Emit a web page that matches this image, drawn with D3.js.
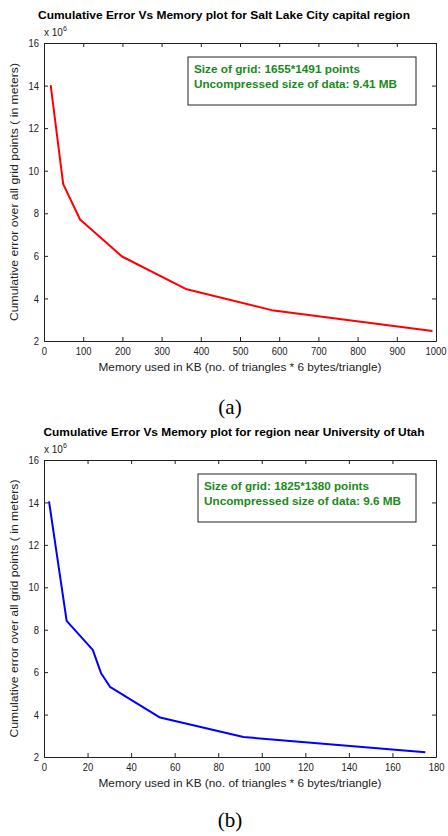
<!DOCTYPE html>
<html>
<head>
<meta charset="utf-8">
<script src="https://cdn.jsdelivr.net/npm/d3@7"></script>
<style>
  body { margin: 0; background: #fff; }
  svg { display: block; font-family: "Liberation Sans", Arial, sans-serif; }
</style>
</head>
<body>
<svg id="fig" width="448" height="836"></svg>
<script>
// panel (a): Salt Lake City capital region
var memA = [17, 49, 92, 199, 364, 581, 991];
var errA = [14.02, 9.37, 7.71, 5.97, 4.43, 3.45, 2.47];
var ticksXA = [0, 100, 200, 300, 400, 500, 600, 700, 800, 900, 1000];

// panel (b): region near University of Utah
var memB = [2.3, 10.4, 22.4, 26.2, 30.3, 53.3, 91.6, 175.1];
var errB = [14.05, 8.42, 7.05, 5.95, 5.31, 3.86, 2.94, 2.22];
var ticksXB = [0, 20, 40, 60, 80, 100, 120, 140, 160, 180];

var ticksY = [2, 4, 6, 8, 10, 12, 14, 16];
var titles = ["Cumulative Error Vs Memory plot for Salt Lake City capital region",
              "Cumulative Error Vs Memory plot for region near University of Utah"];
var notesA = ["Size of grid: 1655*1491 points", "Uncompressed size of data: 9.41 MB"];
var notesB = ["Size of grid: 1825*1380 points", "Uncompressed size of data: 9.6 MB"];
var captions = ["(a)", "(b)"];
var xLabel = "Memory used in KB (no. of triangles * 6 bytes/triangle)";
var yLabel = "Cumulative error over all grid points ( in meters)";

var svg = d3.select("#fig");

// squeeze text horizontally (the original figure is a bit narrow)
function squeeze(sel, k) {
  sel.each(function() {
    var n = this.getComputedTextLength();
    d3.select(this).attr("textLength", n * k).attr("lengthAdjust", "spacingAndGlyphs");
  });
}

function drawPanel(p) {
  var x = d3.scaleLinear().domain([0, p.xMax]).range([44, 436]);
  var y = d3.scaleLinear().domain([2, 16]).range([p.bottom, p.top]);
  var g = svg.append("g");

  // title
  g.append("text")
    .attr("x", p.titleX).attr("y", p.top - 24)
    .attr("text-anchor", "middle")
    .style("font-size", "11.5px").style("font-weight", "bold")
    .attr("textLength", p.titleW).attr("lengthAdjust", "spacingAndGlyphs")
    .text(p.title);

  // line
  var line = d3.line().x(function(d) { return x(d[0]); }).y(function(d) { return y(d[1]); });
  g.append("path")
    .datum(d3.zip(p.mem, p.err))
    .attr("d", line)
    .attr("fill", "none")
    .attr("stroke", p.color)
    .attr("stroke-width", 2)
    .attr("stroke-linejoin", "round");

  // axes, MATLAB style box with inward ticks
  var fmt = d3.format("d");
  var ax = [
    g.append("g").attr("transform", "translate(0," + p.bottom + ")")
      .call(d3.axisBottom(x).tickValues(p.ticksX).tickFormat(fmt).tickSizeInner(-4).tickSizeOuter(0).tickPadding(6)),
    g.append("g").attr("transform", "translate(0," + p.top + ")")
      .call(d3.axisTop(x).tickValues(p.ticksX).tickSizeInner(-4).tickSizeOuter(0).tickFormat("")),
    g.append("g").attr("transform", "translate(44,0)")
      .call(d3.axisLeft(y).tickValues(ticksY).tickFormat(fmt).tickSizeInner(-4).tickSizeOuter(0).tickPadding(5)),
    g.append("g").attr("transform", "translate(436,0)")
      .call(d3.axisRight(y).tickValues(ticksY).tickSizeInner(-4).tickSizeOuter(0).tickFormat(""))
  ];
  ax.forEach(function(a) {
    a.select(".domain").attr("stroke", "#222");
    a.selectAll(".tick line").attr("stroke", "#222");
    a.selectAll("text").style("font-size", "11.5px").style("font-family", "Liberation Sans, Arial, sans-serif")
      .attr("fill", "#222");
  });
  squeeze(ax[0].selectAll("text"), 0.82);
  squeeze(ax[2].selectAll("text"), 0.82);
  // keep the last x label inside the page edge
  ax[0].selectAll(".tick text").filter(function(d) { return d === p.xMax; })
    .each(function() {
      var w = +d3.select(this).attr("textLength");
      d3.select(this).attr("text-anchor", "end").attr("x", Math.min(w / 2, 446 - 436));
    });

  // exponent label
  var ex = g.append("text").attr("x", 44).attr("y", p.top - 7)
    .style("font-size", "10px").attr("fill", "#222");
  ex.append("tspan").text("x 10");
  ex.append("tspan").attr("dy", -5).style("font-size", "7px").text("6");

  // axis labels
  g.append("text")
    .attr("x", 240).attr("y", p.bottom + 30)
    .attr("text-anchor", "middle")
    .style("font-size", "11px").attr("fill", "#222")
    .attr("textLength", 283).attr("lengthAdjust", "spacingAndGlyphs")
    .text(xLabel);
  g.append("text")
    .attr("transform", "translate(18," + ((p.top + p.bottom) / 2) + ") rotate(-90)")
    .attr("text-anchor", "middle")
    .style("font-size", "11px").attr("fill", "#222")
    .attr("textLength", 258).attr("lengthAdjust", "spacingAndGlyphs")
    .text(yLabel);

  // annotation box
  g.append("rect")
    .attr("x", p.box[0]).attr("y", p.box[1]).attr("width", p.box[2]).attr("height", p.box[3])
    .attr("fill", "#fff").attr("stroke", "#222").attr("stroke-width", 1);
  g.selectAll(".note").data(p.notes).enter().append("text")
    .attr("class", "note")
    .attr("x", p.box[0] + 6)
    .attr("y", function(d, i) { return p.box[1] + 16 + i * 14.5; })
    .style("font-size", "11.5px").style("font-weight", "bold")
    .attr("fill", "#1a8a1a")
    .attr("textLength", function(d, i) { return p.noteW[i]; })
    .attr("lengthAdjust", "spacingAndGlyphs")
    .text(function(d) { return d; });

  // caption
  g.append("text")
    .attr("x", 230).attr("y", p.capY)
    .attr("text-anchor", "middle")
    .style("font-family", "Liberation Serif, Times New Roman, serif")
    .style("font-size", "21px")
    .text(p.caption);
}

drawPanel({ title: titles[0], titleX: 224, titleW: 372, mem: memA, err: errA, xMax: 1000,
  ticksX: ticksXA, top: 43, bottom: 341, color: "#ff0000",
  box: [188, 57, 228, 48], notes: notesA, noteW: [166, 203], caption: captions[0], capY: 414 });

drawPanel({ title: titles[1], titleX: 234, titleW: 381, mem: memB, err: errB, xMax: 180,
  ticksX: ticksXB, top: 460, bottom: 757, color: "#0000ff",
  box: [198, 474, 218, 48], notes: notesB, noteW: [165, 197], caption: captions[1], capY: 827 });
</script>
</body>
</html>
